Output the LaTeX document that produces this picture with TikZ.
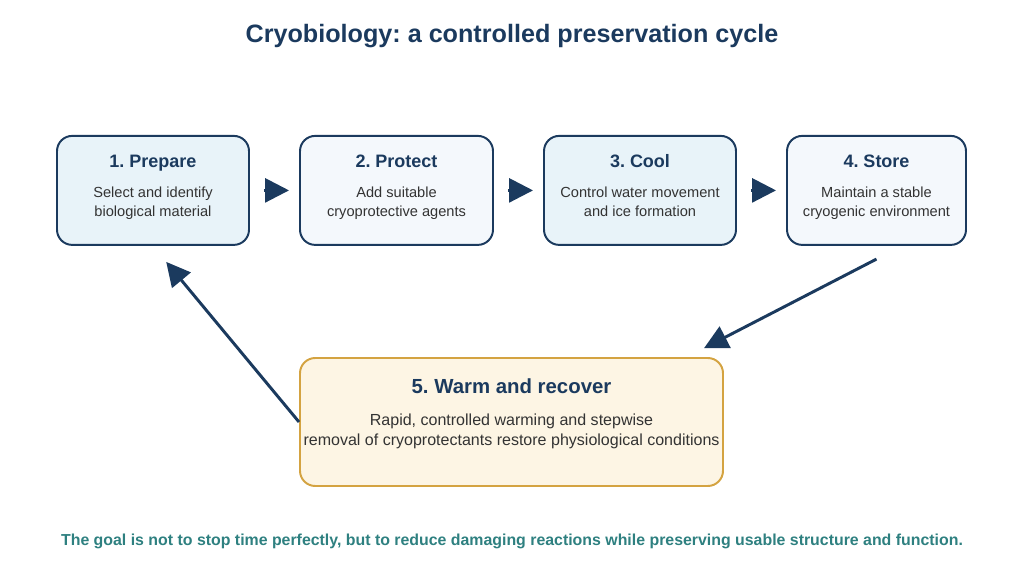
\documentclass[tikz,border=0pt]{standalone}
\usepackage{fontspec}
\setmainfont{Liberation Sans}
\usepackage{tikz}
\usetikzlibrary{arrows.meta,positioning,calc}

\definecolor{cynavy}{RGB}{27,58,94}
\definecolor{cytext}{RGB}{51,51,51}
\definecolor{cyblue}{RGB}{232,243,249}
\definecolor{cypale}{RGB}{244,248,252}
\definecolor{cywarm}{RGB}{253,245,228}
\definecolor{cygold}{RGB}{212,163,65}
\definecolor{cyteal}{RGB}{46,128,128}

\frenchspacing
\newcommand{\cyhead}[1]{{\fontsize{12.8}{15}\selectfont\bfseries\color{cynavy}#1\vphantom{p}}}

\begin{document}
\begin{tikzpicture}[>=Latex,
  stage/.style={draw=cynavy,line width=1.4pt,rounded corners=0.38cm,minimum height=2.725cm,align=center,inner sep=2pt,text=cytext,font=\fontsize{10.4}{13.5}\selectfont},
  flow/.style={draw=cynavy,line width=2.1pt,-{Triangle[length=17pt,width=17pt]}}]
\useasboundingbox (0,0) rectangle (25.6,14.4);
\node[font=\fontsize{17.9}{21}\selectfont\bfseries,text=cynavy] (cy_title) at (12.8,13.5) {Cryobiology: a controlled preservation cycle};
\node[stage,fill=cyblue,minimum width=4.8cm] (cy_prep) at (3.825,9.64) {\cyhead{1. Prepare}\\[8pt]Select and identify\\biological material\\[-7pt]\mbox{}};
\node[stage,fill=cypale,minimum width=4.825cm] (cy_prot) at (9.9125,9.64) {\cyhead{2. Protect}\\[8pt]Add suitable\\cryoprotective agents\\[-7pt]\mbox{}};
\node[stage,fill=cyblue,minimum width=4.8cm] (cy_cool) at (16.0,9.64) {\cyhead{3. Cool}\\[8pt]Control water movement\\and ice formation\\[-7pt]\mbox{}};
\node[stage,fill=cypale,minimum width=4.475cm] (cy_store) at (21.9125,9.64) {\cyhead{4. Store}\\[8pt]Maintain a stable\\cryogenic environment\\[-7pt]\mbox{}};
\node[stage,draw=cygold,fill=cywarm,minimum width=10.575cm,minimum height=3.2cm,inner sep=0pt,font=\fontsize{11.4}{14}\selectfont] (cy_warm) at (12.7875,3.85) {{\fontsize{14.5}{17}\selectfont\bfseries\color{cynavy}5. Warm and recover}\\[9pt]Rapid, controlled warming and stepwise\\removal of cryoprotectants restore physiological conditions\\[0pt]~};
\node[font=\fontsize{11.3}{13}\selectfont\bfseries,text=cyteal] (cy_goal) at (12.8,0.87) {The goal is not to stop time perfectly, but to reduce damaging reactions while preserving usable structure and function.};
% forward steps
\draw[flow,shorten <=0.35cm,shorten >=0.25cm] (cy_prep.east)--(cy_prot.west);
\draw[flow,shorten <=0.35cm,shorten >=0.25cm] (cy_prot.east)--(cy_cool.west);
\draw[flow,shorten <=0.35cm,shorten >=0.25cm] (cy_cool.east)--(cy_store.west);
% back round the cycle
\draw[flow] ($(cy_store.south)+(0,-0.33)$)--($(cy_warm.north east)+(-0.5,0.22)$);
\draw[flow] (cy_warm.west)--($(cy_prep.south)+(0.33,-0.4)$);
\end{tikzpicture}
\end{document}
